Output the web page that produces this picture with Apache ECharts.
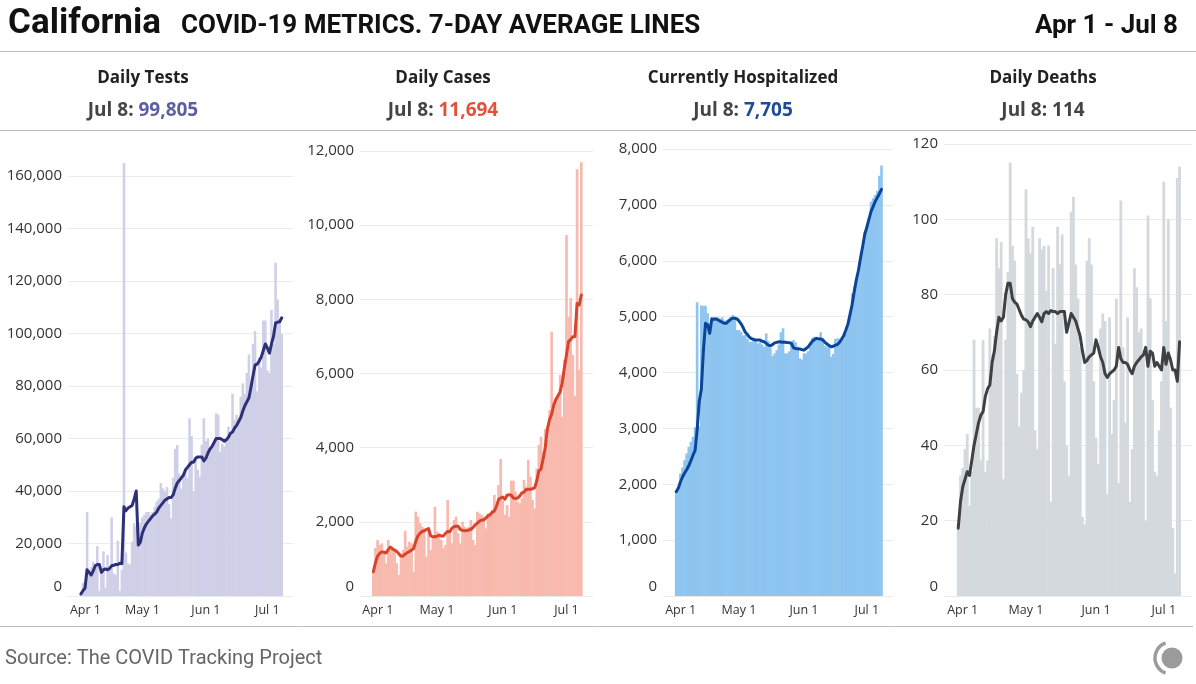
<!DOCTYPE html>
<html><head><meta charset="utf-8">
<script src="https://cdn.jsdelivr.net/npm/echarts@6/dist/echarts.min.js"></script>
<style>html,body{margin:0;padding:0;background:#fff}#c{width:1196px;height:684px}</style>
</head><body><div id="c"></div><script>
// ---- data ----
const tickIdx = [0, 30, 61, 91];
const tickLabels = ['Apr 1', 'May 1', 'Jun 1', 'Jul 1'];
const lastDay = 'Jul 8';
const panelTitles = ['Daily Tests', 'Daily Cases', 'Currently Hospitalized', 'Daily Deaths'];

const testsDaily = [1000,5000,3000,32000,9000,11000,13000,12000,19000,2000,
 9000,17000,3000,15600,11000,30000,8600,8000,21000,2000,
 10000,165000,16600,12400,12000,20700,27700,26400,22000,28000,
 30000,31000,32000,32000,31000,32000,34000,36000,37000,43000,
 41000,40000,41500,35000,29600,45000,56000,57500,46700,41000,
 46700,48600,45000,67700,61000,40000,51800,48000,45500,57600,
 67700,59000,60000,55600,57000,58000,69600,69000,55000,58000,
 57000,59400,64500,61000,77000,67000,69000,66000,76000,81000,
 77000,85000,92000,82000,96000,101000,78000,91000,87000,105000,
 105000,86000,85000,109000,96000,127000,113000,105000,99805];
const testsAvg = [800,2000,3000,10000,9000,8000,9500,11500,12000,12000,
 9000,10000,10300,10000,10500,11500,11700,12000,12000,12500,
 12300,34000,32500,33500,34000,34500,37000,40000,19400,20500,
 24000,26000,27500,28500,29500,30500,31200,32000,33500,34500,
 35500,36500,37000,37500,37500,38500,41000,43000,44000,45000,
 46000,48000,49000,50000,51000,51000,52500,53000,53000,53000,
 51500,52500,54500,56000,57000,58500,60000,60000,60000,59500,
 59000,59500,60500,62000,62500,64000,65000,66500,68000,70500,
 72500,74000,75500,79500,84000,88000,88300,89500,91000,93500,
 96000,94500,92500,96000,99000,104000,104300,104500,106000];

const casesDaily = [700,1300,1510,1375,1420,1150,880,1510,1240,1300,
 1240,880,566,1016,1240,1760,1330,1465,1420,656,
 2275,2140,1960,1870,1825,1060,1780,1240,1600,2410,
 1735,1690,1510,1285,1375,2590,1735,1420,2050,2140,
 1690,1420,2005,1870,1825,1870,2050,1510,1375,2275,
 2230,2185,2140,1825,2230,2185,2320,2724,2410,2994,
 3695,2590,2185,2454,2140,3110,3110,2814,2545,2500,
 2634,3128,2948,3667,3218,2589,2365,3442,4072,4296,
 3892,4500,4207,5016,7128,5106,5340,5375,5960,4836,
 6364,9735,7533,8036,6500,5393,11507,6094,11694];
const casesAvg = [656,900,1080,1150,1190,1180,1160,1250,1320,1270,
 1240,1200,1140,1070,1080,1130,1170,1200,1240,1280,
 1480,1620,1690,1740,1760,1790,1820,1620,1600,1600,
 1610,1640,1620,1620,1690,1740,1730,1830,1870,1880,
 1880,1790,1770,1760,1765,1780,1800,1850,1920,1960,
 2020,2050,2050,2100,2160,2190,2260,2290,2420,2600,
 2640,2670,2610,2720,2730,2720,2640,2630,2640,2700,
 2780,2800,2870,2880,2880,2890,2920,3100,3380,3420,
 3700,4000,4500,4750,4900,5150,5300,5400,5500,5750,
 6150,6500,6860,6920,6990,7000,7890,7850,8118];

const hospDaily = [1840,1900,2190,2300,2430,2550,2670,2760,2850,3020,
 5256,3040,5200,5196,5196,5060,4892,4950,5000,4960,
 4990,4960,4990,4930,4930,4960,5000,5030,5000,4760,
 4760,4730,4660,4670,4600,4550,4550,4580,4560,4520,
 4540,4500,4460,4700,4560,4440,4300,4343,4400,4500,
 4720,4790,4343,4343,4380,4550,4580,4540,4460,4254,
 4230,4340,4343,4380,4460,4620,4640,4600,4620,4720,
 4620,4480,4460,4460,4283,4330,4600,4611,4600,4600,
 4611,4700,4850,5090,5417,5536,5655,5805,6014,6193,
 6520,6610,6760,7058,7118,7177,7250,7520,7705];
const hospAvg = [1867,1930,2040,2130,2200,2260,2330,2420,2520,2600,
 2971,3480,3700,4400,4880,4850,4700,4960,4950,4960,
 4940,4920,4900,4880,4880,4920,4950,4970,4970,4960,
 4920,4870,4800,4720,4680,4630,4605,4590,4580,4580,
 4580,4560,4550,4520,4490,4480,4500,4530,4540,4550,
 4545,4540,4540,4535,4534,4520,4440,4430,4425,4420,
 4410,4400,4430,4460,4510,4560,4590,4611,4605,4600,
 4580,4540,4510,4480,4460,4470,4490,4500,4540,4600,
 4660,4760,4870,5040,5220,5450,5660,5830,6050,6250,
 6470,6600,6740,6880,6970,7060,7130,7200,7279];

const deathsDaily = [18,32,34,39,43,24,33,68,50,50,
 36,68,33,36,71,64,69,95,87,94,
 31,68,86,115,93,89,59,45,54,60,
 108,95,91,98,44,39,95,92,93,81,
 93,25,87,67,98,88,96,57,40,32,
 102,106,88,79,66,21,19,89,95,88,
 57,42,35,71,75,73,27,74,43,52,
 79,30,105,66,46,74,25,39,87,82,
 70,71,64,20,101,79,52,33,32,44,
 57,110,73,100,50,18,6,111,114];
const deathsAvg = [18,25,29,31,33,32,36,40,43,46,
 48,49,53,55,56,62,65,70,74,73,
 74,80,83,83,79,78,77.5,76,74.5,73.5,
 73.3,72.8,71.5,73,74,75,74,72.8,75,75.5,
 75,75.8,75.5,75.5,75,75.5,75.5,75.5,70,72.5,
 75,74,73,71,69,65,62,62.5,63.5,64,
 64.5,68,66,63.5,62,59,58,59,59.5,60,
 61,66,63,62,62,61.5,60,59,61,62,
 62.7,63.5,64,66,61,65,64.5,61,62,61,
 60,66,61.5,64.5,62.7,60,60,57,67.5];

// ---- layout / style ----
const panels = [
  {bars: testsDaily, avg: testsAvg, max: 160000, interval: 20000, left: 68, rightEdge: 293, top: 176,
   barColor: '#cfd0e7', lineColor: '#2e3177', numColor: '#5b5ea3', cx: 143, clip: false},
  {bars: casesDaily, avg: casesAvg, max: 12000, interval: 2000, left: 360, rightEdge: 593, top: 151,
   barColor: '#f8b9ae', lineColor: '#d8432a', numColor: '#e0533a', cx: 443, clip: true},
  {bars: hospDaily, avg: hospAvg, max: 8000, interval: 1000, left: 663, rightEdge: 893, top: 149,
   barColor: '#8ec4f0', lineColor: '#0b4597', numColor: '#1b4d95', cx: 743, clip: true},
  {bars: deathsDaily, avg: deathsAvg, max: 120, interval: 20, left: 944, rightEdge: 1192, top: 144,
   barColor: '#d3d9dd', lineColor: '#3d4144', numColor: '#444444', cx: 1043, clip: true}
];
const W = 1196, H = 684, BASE = 596;
const FONT = '"Open Sans", sans-serif';
const HFONT = 'Roboto, sans-serif';
const fmt = v => Number(v).toLocaleString('en-US');

const grid = [], xAxis = [], yAxis = [], series = [], graphic = [];
panels.forEach((p, k) => {
  grid.push({left: p.left, right: W - p.rightEdge, top: p.top, bottom: H - BASE, containLabel: false});
  xAxis.push({
    type: 'value', gridIndex: k, min: -6.3, max: 103.5,
    axisLine: {show: false}, axisTick: {show: false}, splitLine: {show: false},
    axisLabel: {
      customValues: tickIdx, margin: 8, color: '#333', fontSize: 12.5, fontFamily: FONT,
      formatter: v => { const j = tickIdx.indexOf(Math.round(v)); const t = j >= 0 ? tickLabels[j] : '';
        return j === 0 ? '{f|' + t + '}' : t; },
      rich: {f: {padding: [0, 0, 0, 9], color: '#333', fontSize: 12.5, fontFamily: FONT}}
    }
  });
  yAxis.push({
    type: 'value', gridIndex: k, min: 0, max: p.max, interval: p.interval,
    axisLine: {show: false}, axisTick: {show: false},
    splitLine: {show: true, lineStyle: {color: '#ececec', width: 1}},
    axisLabel: {
      margin: 6, color: '#333', fontSize: 15, fontFamily: FONT,
      formatter: v => v === 0 ? '{z|0}' : fmt(v),
      rich: {z: {padding: [0, 0, 18, 0], color: '#333', fontSize: 15, fontFamily: FONT}}
    }
  });
  series.push({
    type: 'bar', xAxisIndex: k, yAxisIndex: k, barWidth: '125%', clip: p.clip,
    data: p.bars.map((v, i) => [i, v]), itemStyle: {color: p.barColor},
    emphasis: {disabled: true}, silent: true, z: 2
  });
  series.push({
    type: 'line', xAxisIndex: k, yAxisIndex: k, showSymbol: false, symbol: 'none',
    data: p.avg.map((v, i) => [i, v]),
    lineStyle: {color: p.lineColor, width: 3, cap: 'round', join: 'round'},
    emphasis: {disabled: true}, silent: true, z: 3
  });
  graphic.push({type: 'text', x: p.cx, y: 78, style: {text: panelTitles[k], fill: '#222',
    font: 'bold 17px ' + FONT, align: 'center', verticalAlign: 'middle'}});
  graphic.push({type: 'text', x: p.cx, y: 111, style: {
    text: '{a|' + lastDay + ': }{b|' + fmt(p.bars[p.bars.length - 1]) + '}',
    align: 'center', verticalAlign: 'middle',
    rich: {a: {fill: '#444', font: 'bold 19px ' + FONT}, b: {fill: p.numColor, font: 'bold 19px ' + FONT}}
  }});
});

graphic.push(
  {type: 'text', x: 8, y: 24, style: {text: 'California', fill: '#111', font: 'bold 35px ' + HFONT, align: 'left', verticalAlign: 'middle'}},
  {type: 'text', x: 181, y: 26, style: {text: 'COVID-19 METRICS. 7-DAY AVERAGE LINES', fill: '#111', font: 'bold 26px ' + HFONT, align: 'left', verticalAlign: 'middle'}},
  {type: 'text', x: 1178, y: 26, style: {text: 'Apr 1 - Jul 8', fill: '#111', font: 'bold 26px ' + HFONT, align: 'right', verticalAlign: 'middle'}},
  {type: 'line', shape: {x1: 0, y1: 51.5, x2: W, y2: 51.5}, style: {stroke: '#bdbdbd', lineWidth: 1}},
  {type: 'line', shape: {x1: 0, y1: 130.5, x2: W, y2: 130.5}, style: {stroke: '#bdbdbd', lineWidth: 1}},
  {type: 'line', shape: {x1: 0, y1: 626.5, x2: 1193, y2: 626.5}, style: {stroke: '#bdbdbd', lineWidth: 1}},
  {type: 'text', x: 5, y: 659, style: {text: 'Source: The COVID Tracking Project', fill: '#666', font: '20px ' + HFONT, align: 'left', verticalAlign: 'middle'}},
  {type: 'circle', shape: {cx: 1172, cy: 658, r: 10.5}, style: {fill: '#9b9b9b'}},
  {type: 'arc', shape: {cx: 1171, cy: 658, r: 16, startAngle: 110 * Math.PI / 180, endAngle: 250 * Math.PI / 180, clockwise: true},
   style: {stroke: '#9b9b9b', lineWidth: 3.5, fill: null}}
);

const chart = echarts.init(document.getElementById('c'), null, {renderer: 'canvas'});
chart.setOption({backgroundColor: '#fff', animation: false, grid, xAxis, yAxis, series, graphic});
</script></body></html>
